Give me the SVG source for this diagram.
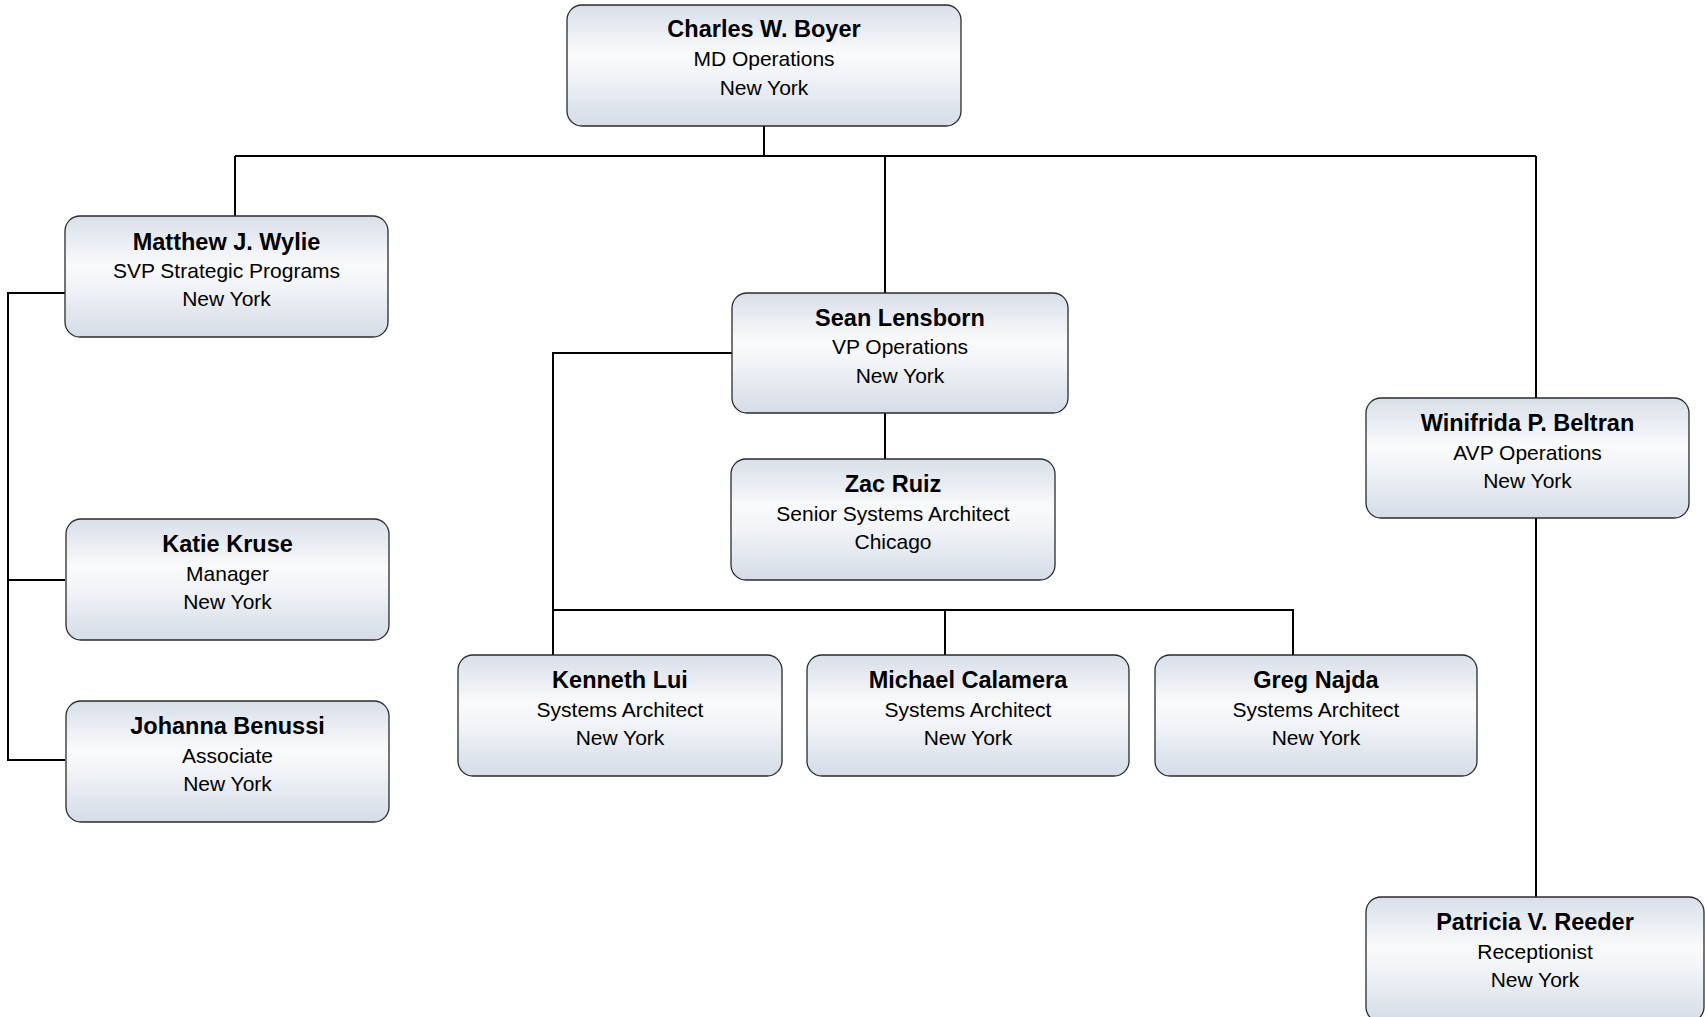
<svg xmlns="http://www.w3.org/2000/svg" width="1705" height="1017" viewBox="0 0 1705 1017">
<defs>
<linearGradient id="g" x1="0" y1="0" x2="0" y2="1">
<stop offset="0" stop-color="#d9dfe9"/>
<stop offset="0.4" stop-color="#f9fafb"/>
<stop offset="0.55" stop-color="#f3f5f8"/>
<stop offset="1" stop-color="#d5dce7"/>
</linearGradient>
<style>
.box{fill:url(#g);stroke:#2b2b2b;stroke-width:1.3}
.n{font-family:"Liberation Sans",Arial,sans-serif;font-size:23.5px;font-weight:bold;fill:#000;text-anchor:middle}
.t{font-family:"Liberation Sans",Arial,sans-serif;font-size:21px;fill:#000;text-anchor:middle}
.c{fill:none;stroke:#000;stroke-width:2}
</style>
</defs>
<rect width="1705" height="1017" fill="#fff"/>
<g id="connectors">
<path class="c" d="M764 126V156M235 156H1536M235 156V216M885 156V293M1536 156V398"/>
<path class="c" d="M65 293H8V760H65M8 580H65"/>
<path class="c" d="M732 353H553V655M553 610H1293V655M945 610V655"/>
<path class="c" d="M885 413V459"/>
<path class="c" d="M1536 518V897"/>
</g>
<g id="charles">
<rect class="box" x="567" y="5" width="394" height="121" rx="15"/>
<text class="n" x="764" y="37">Charles W. Boyer</text>
<text class="t" x="764" y="66">MD Operations</text>
<text class="t" x="764" y="95">New York</text>
</g>
<g id="matthew">
<rect class="box" x="65" y="216" width="323" height="121" rx="15"/>
<text class="n" x="226.5" y="250">Matthew J. Wylie</text>
<text class="t" x="226.5" y="278">SVP Strategic Programs</text>
<text class="t" x="226.5" y="306">New York</text>
</g>
<g id="sean">
<rect class="box" x="732" y="293" width="336" height="120" rx="15"/>
<text class="n" x="900" y="326">Sean Lensborn</text>
<text class="t" x="900" y="354">VP Operations</text>
<text class="t" x="900" y="383">New York</text>
</g>
<g id="zac">
<rect class="box" x="731" y="459" width="324" height="121" rx="15"/>
<text class="n" x="893" y="492">Zac Ruiz</text>
<text class="t" x="893" y="520.5">Senior Systems Architect</text>
<text class="t" x="893" y="548.5">Chicago</text>
</g>
<g id="winifrida">
<rect class="box" x="1366" y="398" width="323" height="120" rx="15"/>
<text class="n" x="1527.5" y="431">Winifrida P. Beltran</text>
<text class="t" x="1527.5" y="459.5">AVP Operations</text>
<text class="t" x="1527.5" y="487.5">New York</text>
</g>
<g id="katie">
<rect class="box" x="66" y="519" width="323" height="121" rx="15"/>
<text class="n" x="227.5" y="552">Katie Kruse</text>
<text class="t" x="227.5" y="580.5">Manager</text>
<text class="t" x="227.5" y="608.5">New York</text>
</g>
<g id="johanna">
<rect class="box" x="66" y="701" width="323" height="121" rx="15"/>
<text class="n" x="227.5" y="734">Johanna Benussi</text>
<text class="t" x="227.5" y="762.5">Associate</text>
<text class="t" x="227.5" y="790.5">New York</text>
</g>
<g id="kenneth">
<rect class="box" x="458" y="655" width="324" height="121" rx="15"/>
<text class="n" x="620" y="688">Kenneth Lui</text>
<text class="t" x="620" y="716.5">Systems Architect</text>
<text class="t" x="620" y="744.5">New York</text>
</g>
<g id="michael">
<rect class="box" x="807" y="655" width="322" height="121" rx="15"/>
<text class="n" x="968" y="688">Michael Calamera</text>
<text class="t" x="968" y="716.5">Systems Architect</text>
<text class="t" x="968" y="744.5">New York</text>
</g>
<g id="greg">
<rect class="box" x="1155" y="655" width="322" height="121" rx="15"/>
<text class="n" x="1316" y="688">Greg Najda</text>
<text class="t" x="1316" y="716.5">Systems Architect</text>
<text class="t" x="1316" y="744.5">New York</text>
</g>
<g id="patricia">
<rect class="box" x="1366" y="897" width="338" height="125" rx="15"/>
<text class="n" x="1535" y="930">Patricia V. Reeder</text>
<text class="t" x="1535" y="958.5">Receptionist</text>
<text class="t" x="1535" y="986.5">New York</text>
</g>
</svg>
